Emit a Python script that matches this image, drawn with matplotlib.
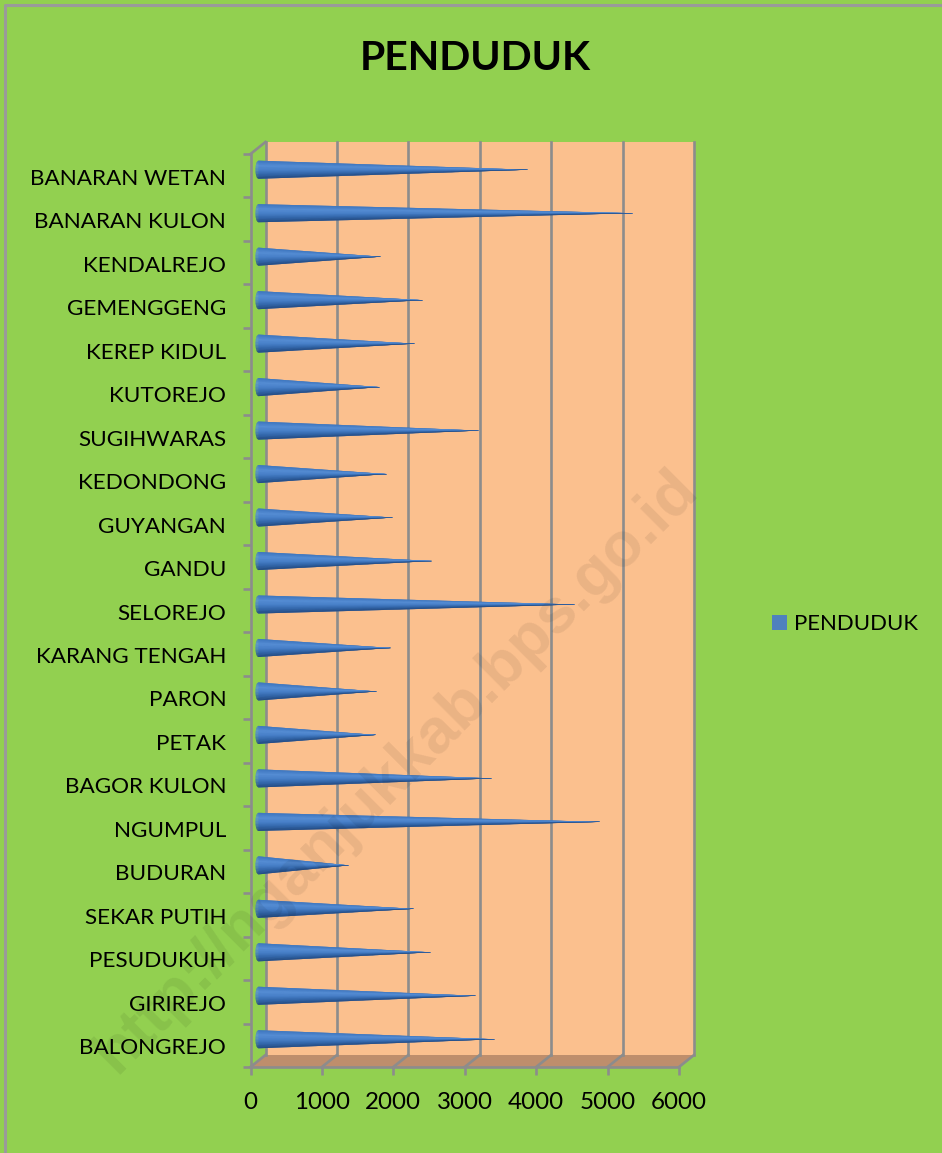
import matplotlib
matplotlib.use('Agg')
import matplotlib.pyplot as plt
import numpy as np
from matplotlib.collections import PolyCollection
from matplotlib.colors import LinearSegmentedColormap
from matplotlib.patches import Patch, Polygon
from matplotlib.transforms import ScaledTranslation

plt.rcParams['font.family'] = ['Lato', 'DejaVu Sans']

villages = ['BALONGREJO', 'GIRIREJO', 'PESUDUKUH', 'SEKAR PUTIH', 'BUDURAN', 'NGUMPUL',
            'BAGOR KULON', 'PETAK', 'PARON', 'KARANG TENGAH', 'SELOREJO', 'GANDU',
            'GUYANGAN', 'KEDONDONG', 'SUGIHWARAS', 'KUTOREJO', 'KEREP KIDUL',
            'GEMENGGENG', 'KENDALREJO', 'BANARAN KULON', 'BANARAN WETAN']
penduduk = [3305, 3039, 2409, 2171, 1261, 4776,
            3263, 1639, 1653, 1849, 4426, 2423,
            1877, 1793, 3081, 1695, 2185,
            2297, 1709, 5238, 3767]
xticks = [0, 1000, 2000, 3000, 4000, 5000, 6000]

W, H = 942, 1153
GREEN = '#92D050'
WALL = '#FBC08E'
FLOOR = '#BE8E6C'
GREY = '#8C8C8C'

fig = plt.figure(figsize=(W / 100, H / 100), dpi=100, facecolor=GREEN)
ax = fig.add_axes([250.5 / W, 1 - 1067 / H, 428.5 / W, 913 / H])
ax.set_xlim(0, 6000)
ax.set_ylim(0, len(villages))
ax.patch.set_visible(False)

# depth of the fake 3d box, in data units
dx = 15 / (428.5 / 6000)
dy = 12 / (913 / len(villages))
top = len(villages)

ax.add_patch(Polygon([(dx, dy), (6000 + dx, dy), (6000 + dx, top + dy), (dx, top + dy)],
                     fc=WALL, ec='none', clip_on=False, zorder=1))
ax.add_patch(Polygon([(0, 0), (6000, 0), (6000 + dx, dy), (dx, dy)],
                     fc=FLOOR, ec='none', clip_on=False, zorder=1))
for x in xticks:
    ax.plot([x + dx, x + dx], [dy, top + dy], color=GREY, lw=1.9, clip_on=False, zorder=2)
    ax.plot([x, x + dx], [0, dy], color=GREY, lw=1.9, clip_on=False, zorder=2)
ax.plot([0, dx], [top, top + dy], color=GREY, lw=1.9, clip_on=False, zorder=2)

# cones: thin wedges from the round base to the tip, shaded top to bottom
shade = LinearSegmentedColormap.from_list('cone', ['#4079C2', '#5A92D9', '#4A83CC', '#3265A8', '#1F4478'])
n = 24
edges = np.linspace(-1, 1, n + 1)
half_h = 9 / (913 / len(villages))
cap = 2.8 / (428.5 / 6000)
for i, v in enumerate(penduduk):
    yc = i + 0.5 + dy / 2
    x0 = dx / 2 + 5
    tip = (x0 + v, yc)
    wedges = []
    for a, b in zip(edges[:-1], edges[1:]):
        xa = x0 - cap * np.sqrt(1 - a ** 2)
        xb = x0 - cap * np.sqrt(1 - b ** 2)
        wedges.append([(xa, yc - a * half_h), (xb, yc - b * half_h), tip])
    # solid cone underneath so the seams between wedges do not show the wall
    ax.add_patch(Polygon([(x0, yc + half_h), tip, (x0, yc - half_h)], fc='#3F75BC', ec='none',
                         clip_on=False, zorder=3))
    cols = shade((edges[:-1] + 1) / 2)
    ax.add_collection(PolyCollection(wedges, facecolors=cols, edgecolors=cols, linewidths=0.08,
                                     clip_on=False, zorder=3))

for side in ['top', 'right']:
    ax.spines[side].set_visible(False)
for side in ['left', 'bottom']:
    ax.spines[side].set_color(GREY)
    ax.spines[side].set_linewidth(1.9)
    ax.spines[side].set_zorder(4)

ax.set_xticks(xticks)
ax.set_yticks(np.arange(len(villages)) + 0.5)
ax.set_yticklabels(villages)
ax.set_yticks(np.arange(len(villages) + 1), minor=True)
ax.tick_params(axis='y', which='major', length=0, pad=17.5, labelsize=16.2, labelcolor='black')
ax.tick_params(axis='y', which='minor', length=5.8, width=1.9, color=GREY)
ax.tick_params(axis='x', which='major', length=5.8, width=1.9, color=GREY, pad=12.5, labelsize=17.4)
# labels sit a little under the middle of the band
for lab in ax.get_yticklabels():
    lab.set_transform(lab.get_transform() + ScaledTranslation(0, -0.75 / 72, fig.dpi_scale_trans))

fig.text(475.5 / W, 1 - 59 / H, 'PENDUDUK', ha='center', va='center', fontsize=29.5,
         fontweight='bold', color='black')

fig.legend(handles=[Patch(fc='#4F81BD', ec='none', label='PENDUDUK')], loc='center left',
           bbox_to_anchor=(765 / W, 1 - 624 / H), frameon=False, fontsize=15.9,
           handlelength=0.68, handleheight=0.68, handletextpad=0.32, borderpad=0.3, borderaxespad=0)

# outer border, only left and top reach the picture
fig.add_artist(plt.Line2D([5 / W, 5 / W, 1], [0, 1 - 5 / H, 1 - 5 / H], color='#9A9A9A', lw=2.2))

fig.text(396 / W, 1 - 771 / H, 'http://nganjukkab.bps.go.id', rotation=45, ha='center', va='center',
         rotation_mode='anchor', fontsize=45.5, fontweight='bold', family='Liberation Sans',
         color='black', alpha=0.07, zorder=10)

fig.savefig('out.png', dpi=100, facecolor=GREEN)
